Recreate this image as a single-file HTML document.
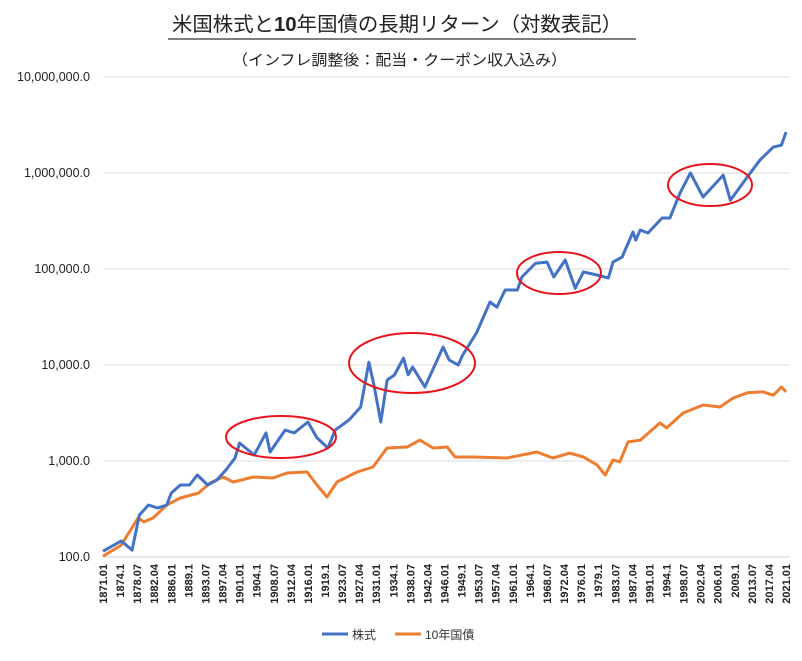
<!DOCTYPE html>
<html><head><meta charset="utf-8">
<style>
html,body{margin:0;padding:0;background:#fff;}
body{width:802px;height:656px;overflow:hidden;font-family:"Liberation Sans","Noto Sans CJK JP",sans-serif;}
svg text{font-family:"Liberation Sans","Noto Sans CJK JP",sans-serif;}
</style></head>
<body>
<svg id="chart" width="802" height="656" viewBox="0 0 802 656" xmlns="http://www.w3.org/2000/svg">
<text x="172" y="31" textLength="450" lengthAdjust="spacingAndGlyphs" font-size="20" fill="#222">米国株式と<tspan font-weight="bold">10</tspan>年国債の長期リターン（対数表記）</text>
<line x1="168" y1="39" x2="636" y2="39" stroke="#555" stroke-width="1.5"/>
<text x="232" y="65" textLength="335" lengthAdjust="spacingAndGlyphs" font-size="15" fill="#222">（インフレ調整後：配当・クーポン収入込み）</text>
<g id="grid"></g>
<g id="ylabels"></g>
<g id="xlabels"></g>
<g id="series"></g>
<g fill="none" stroke="#e8141c" stroke-width="2">
<ellipse cx="281" cy="437" rx="55" ry="21"/>
<ellipse cx="412" cy="363" rx="63" ry="30"/>
<ellipse cx="559" cy="273" rx="42" ry="21"/>
<ellipse cx="710" cy="185" rx="42" ry="21"/>
</g>
<g>
<line x1="322" y1="634" x2="348" y2="634" stroke="#4472c4" stroke-width="3"/>
<text x="352" y="639" font-size="12" fill="#333">株式</text>
<line x1="395" y1="634" x2="421" y2="634" stroke="#ed7d31" stroke-width="3"/>
<text x="425" y="639" font-size="12" fill="#333">10年国債</text>
</g>
</svg>
<script>
const yTickValues = [100, 1000, 10000, 100000, 1000000, 10000000];
const yTickLabels = ["100.0","1,000.0","10,000.0","100,000.0","1,000,000.0","10,000,000.0"];
const stockYears = [1871,1875,1877.4,1879,1881,1883,1885,1886,1888,1890,1891.7,1894,1896,1898,1900,1901,1904.2,1906.8,1907.7,1911,1913,1916,1918,1920.4,1922,1925,1927.6,1929.4,1930.5,1932,1933.4,1935,1937,1938,1939,1941.7,1945.7,1947,1949,1950,1953,1956,1957.5,1959.3,1962,1963,1966,1968.5,1970,1972.5,1974.7,1976.5,1979.5,1982,1983,1985,1987.4,1988,1989,1990.7,1993.8,1995.5,1997.7,2000,2002.8,2007.2,2008.8,2012.5,2015.3,2018.2,2020,2021];
const stockValues = [115,147,118,274,348,324,348,464,562,562,715,562,634,806,1075,1540,1155,1960,1240,2100,1960,2550,1740,1365,2100,2670,3650,10700,6200,2550,6950,7870,11800,7900,9500,5900,15400,11300,10000,12700,21500,45300,40000,60500,60500,82500,115000,118000,82500,124000,63000,93000,86600,80600,118000,133000,243000,200000,255000,237000,340000,340000,615000,1000000,562000,950000,520000,908000,1365000,1860000,1950000,2670000];
const bondYears = [1871,1875,1878.7,1880,1882,1885,1888,1892,1894.5,1897.4,1899.6,1904,1908.3,1911.4,1915.8,1918,1920.2,1922.4,1926.8,1930.3,1933.4,1937.8,1940.6,1943.5,1946.6,1948.3,1952.3,1959.7,1966.3,1969.8,1973.5,1976.5,1979.5,1981.3,1983,1984.5,1986.3,1989,1993.3,1994.8,1998.4,2002.8,2006.5,2009.4,2012.5,2016,2018.2,2020,2021];
const bondValues = [102,133,255,232,255,348,412,464,590,681,605,681,665,750,768,562,422,605,768,866,1365,1400,1650,1365,1400,1100,1100,1075,1240,1075,1210,1100,910,715,1025,980,1580,1650,2490,2210,3160,3830,3650,4530,5130,5250,4850,5900,5250];

const X0=103, X1=786, Y100=557, DEC=96;
function xScale(yr){return X0+(yr-1871)/150*(X1-X0);}
function yScale(v){return Y100-(Math.log10(v)-2)*DEC;}
const NS="http://www.w3.org/2000/svg";
const grid=document.getElementById('grid'), yl=document.getElementById('ylabels'), xl=document.getElementById('xlabels'), ser=document.getElementById('series');
yTickValues.forEach((v,i)=>{
  const y=yScale(v);
  const l=document.createElementNS(NS,'line');
  
  
  l.setAttribute('x1',X0);l.setAttribute('x2',X1+4);l.setAttribute('y1',y);l.setAttribute('y2',y);
  l.setAttribute('stroke',i===0?'#cfcfcf':'#dcdcdc');l.setAttribute('stroke-width','1');
  grid.appendChild(l);
  const t=document.createElementNS(NS,'text');
  
  
  t.setAttribute('x',90);t.setAttribute('y',y+4);t.setAttribute('text-anchor','end');
  t.setAttribute('font-size','12.5');t.setAttribute('fill','#222');
  t.textContent=yTickLabels[i];
  yl.appendChild(t);
});
const monthStr={1:"01",10:"1",7:"07",4:"04"};
for(let k=0;k<=40;k++){
  const m=k*45; const yr=1871+Math.floor(m/12); const mo=(m%12)+1;
  const label=yr+"."+monthStr[mo];
  const x=xScale(1871+m/12);
  const t=document.createElementNS(NS,'text');
  
  
  t.setAttribute('transform','translate('+(x+4)+',564) rotate(-90)');
  t.setAttribute('text-anchor','end');t.setAttribute('font-size','11');t.setAttribute('font-weight','bold');t.setAttribute('fill','#222');
  t.textContent=label;
  xl.appendChild(t);
}
function drawLine(years,vals,color,name){
  const p=document.createElementNS(NS,'polyline');
  
  
  p.setAttribute('points',years.map((yr,i)=>xScale(yr).toFixed(1)+','+yScale(vals[i]).toFixed(1)).join(' '));
  p.setAttribute('fill','none');p.setAttribute('stroke',color);p.setAttribute('stroke-width','3');p.setAttribute('stroke-linejoin','round');
  ser.appendChild(p);
}
drawLine(bondYears,bondValues,'#ed7d31','bond-line');
drawLine(stockYears,stockValues,'#4472c4','stock-line');
</script>
</body></html>
